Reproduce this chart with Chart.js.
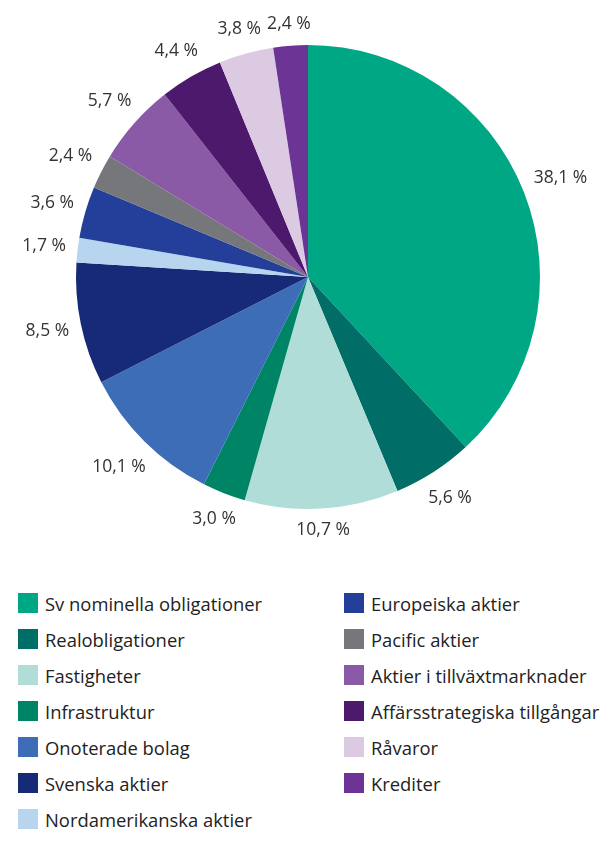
<!DOCTYPE html>
<html>
<head>
<meta charset="utf-8">
<script src="https://cdn.jsdelivr.net/npm/chart.js@4"></script>
<style>
  body { margin: 0; background: #fff; width: 612px; height: 844px; overflow: hidden; font-family: 'Open Sans', sans-serif; }
  #wrap { position: absolute; left: 0; top: 0; width: 612px; height: 560px; }
  .legend { position: absolute; top: 590px; left: 0; width: 612px; }
  .item { position: absolute; display: flex; align-items: center; font-size: 18.4px; color: #222; white-space: nowrap; height: 26px; }
  .box { width: 20px; height: 20px; margin-right: 7px; flex: none; }
</style>
</head>
<body>
<div id="wrap"><canvas id="pie" width="612" height="560"></canvas></div>
<div class="legend" id="legend"></div>
<script>
const categories = [
  'Sv nominella obligationer', 'Realobligationer', 'Fastigheter', 'Infrastruktur',
  'Onoterade bolag', 'Svenska aktier', 'Nordamerikanska aktier', 'Europeiska aktier',
  'Pacific aktier', 'Aktier i tillväxtmarknader', 'Affärsstrategiska tillgångar',
  'Råvaror', 'Krediter'
];
const shares = [38.1, 5.6, 10.7, 3.0, 10.1, 8.5, 1.7, 3.6, 2.4, 5.7, 4.4, 3.8, 2.4];
const colors = [
  '#00a785', '#006e66', '#b1ddd9', '#008466', '#3e6db8', '#172a78', '#b8d5f0',
  '#233f99', '#75777b', '#8a5aa7', '#4c196d', '#dccae2', '#6b3495'
];

const fmt = v => v.toFixed(1).replace('.', ',') + ' %';

const outsideLabels = {
  id: 'outsideLabels',
  afterDraw(chart) {
    const ctx = chart.ctx;
    const meta = chart.getDatasetMeta(0);
    ctx.save();
    ctx.font = '17.5px "Open Sans"';
    ctx.fillStyle = '#333';
    ctx.textAlign = 'center';
    ctx.textBaseline = 'middle';
    meta.data.forEach((arc, i) => {
      const mid = (arc.startAngle + arc.endAngle) / 2;
      const txt = fmt(shares[i]);
      const hw = ctx.measureText(txt).width / 2;
      const hh = 9;
      const c = Math.cos(mid), s = Math.sin(mid);
      const d = arc.outerRadius + 11 + Math.abs(c) * hw + Math.abs(s) * hh;
      ctx.fillText(txt, arc.x + c * d, arc.y + s * d);
    });
    ctx.restore();
  }
};

new Chart(document.getElementById('pie'), {
  type: 'pie',
  data: {
    labels: categories,
    datasets: [{
      data: shares,
      backgroundColor: colors,
      borderWidth: 0
    }]
  },
  options: {
    responsive: false,
    animation: false,
    layout: { padding: { left: 76, right: 72, top: 45, bottom: 51 } },
    plugins: {
      legend: { display: false },
      tooltip: { enabled: false }
    }
  },
  plugins: [outsideLabels]
});

// two-column legend
const legend = document.getElementById('legend');
categories.forEach((name, i) => {
  const col = i < 7 ? 0 : 1;
  const row = col === 0 ? i : i - 7;
  const el = document.createElement('div');
  el.className = 'item';
  el.style.left = (col === 0 ? 18 : 344) + 'px';
  el.style.top = (row * 36) + 'px';
  el.innerHTML = `<div class="box" style="background:${colors[i]}"></div><span>${name}</span>`;
  legend.appendChild(el);
});
</script>
</body>
</html>
